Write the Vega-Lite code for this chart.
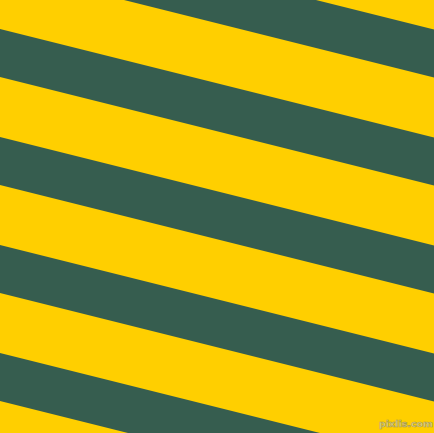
{
  "$schema": "https://vega.github.io/schema/vega-lite/v6.json",
  "width": 434, "height": 433,
  "autosize": {"type": "fit", "contains": "padding"},
  "padding": 0,
  "background": "#FFCF00",
  "config": {"view": {"stroke": null}},
  "datasets": {
    "bands": [
      {"band": "a", "x": 0, "top": -79, "bottom": -31},
      {"band": "a", "x": 434, "top": 29.5, "bottom": 77.5},
      {"band": "b", "x": 0, "top": 29, "bottom": 77},
      {"band": "b", "x": 434, "top": 137.5, "bottom": 185.5},
      {"band": "c", "x": 0, "top": 137, "bottom": 185},
      {"band": "c", "x": 434, "top": 245.5, "bottom": 293.5},
      {"band": "d", "x": 0, "top": 245, "bottom": 293},
      {"band": "d", "x": 434, "top": 353.5, "bottom": 401.5},
      {"band": "e", "x": 0, "top": 353, "bottom": 401},
      {"band": "e", "x": 434, "top": 461.5, "bottom": 509.5}
    ],
    "mark": [
      {"x": 406, "y": 424, "label": "pixlis.com"}
    ]
  },
  "layer": [
    {
      "data": {"name": "bands"},
      "mark": {"type": "area", "color": "#365D4F", "clip": true, "interpolate": "linear"},
      "encoding": {
        "x": {"field": "x", "type": "quantitative", "scale": {"domain": [0, 434], "nice": false, "zero": false}, "axis": null},
        "y": {"field": "top", "type": "quantitative", "scale": {"domain": [0, 433], "nice": false, "zero": false, "reverse": true}, "axis": null},
        "y2": {"field": "bottom"},
        "detail": {"field": "band"}
      }
    },
    {
      "data": {"name": "mark"},
      "mark": {"type": "text", "font": "DejaVu Sans", "fontSize": 9.5, "fontWeight": "bold", "color": "#F2E48C", "stroke": "#A89A50", "strokeWidth": 0.7},
      "encoding": {
        "x": {"field": "x", "type": "quantitative"},
        "y": {"field": "y", "type": "quantitative"},
        "text": {"field": "label"}
      }
    }
  ]
}
